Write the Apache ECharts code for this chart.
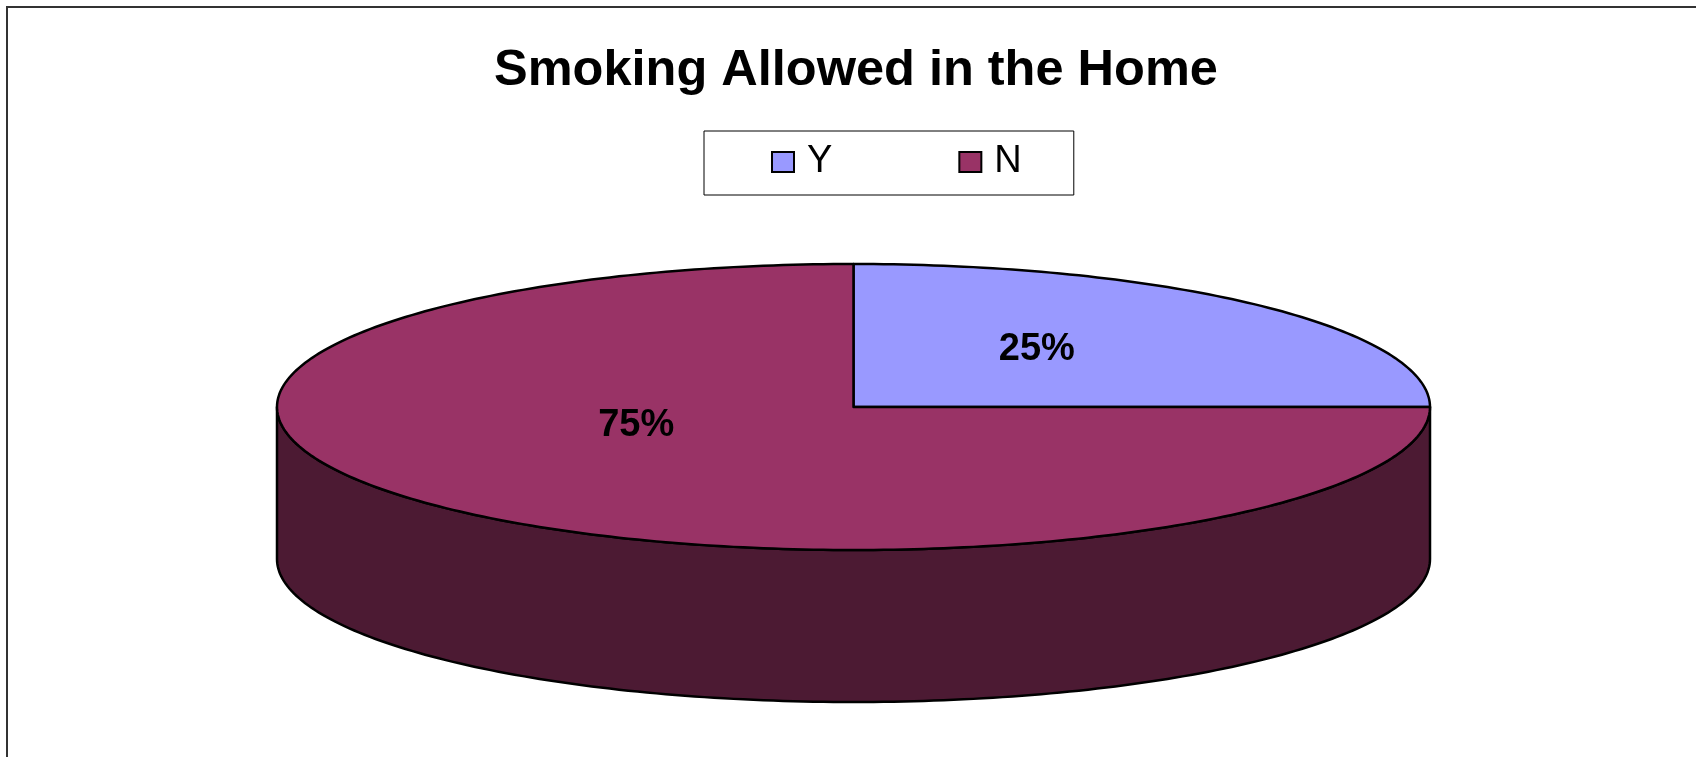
<!DOCTYPE html>
<html>
<head>
<meta charset="utf-8">
<title>Smoking Allowed in the Home</title>
<script src="https://cdn.jsdelivr.net/npm/echarts@6/dist/echarts.min.js"></script>
<style>
  html, body { margin: 0; padding: 0; background: #fff; }
  #chart { width: 1696px; height: 757px; }
</style>
</head>
<body>
<div id="chart"></div>
<script>
// Answer categories and their shares (percent of homes)
const categories = ['Y', 'N'];
const shares = [25, 75];

// Colours of each slice: top face and darker wall
const sliceColors = ['#9999FF', '#993366'];
const wallColors = ['#4D4D80', '#4C1A33'];

// Label placement inside each slice, as a fraction of the ellipse radii
const labelOffsets = [[0.318, 0.40], [-0.377, -0.126]];

// Geometry of the tilted pie
const pie = { cx: 853.5, cy: 407, rx: 576.5, ry: 143, depth: 152 };

const total = shares.reduce((a, b) => a + b, 0);

function pt(deg, dy) {
  const r = deg * Math.PI / 180;
  return [pie.cx + pie.rx * Math.cos(r), pie.cy - pie.ry * Math.sin(r) + (dy || 0)];
}

// Arc sample points from angle a to angle b (degrees), inclusive
function arc(a, b, dy) {
  const pts = [];
  const n = Math.max(2, Math.ceil(Math.abs(b - a) / 1));
  for (let i = 0; i <= n; i++) pts.push(pt(a + (b - a) * i / n, dy));
  return pts;
}

function makeRenderer(idx) {
  return function (params, api) {
    const v = api.value(0);
    let before = 0;
    for (let i = 0; i < idx; i++) before += shares[i];
    // slices run clockwise from 12 o'clock
    const a0 = 90 - before / total * 360;
    const a1 = a0 - v / total * 360;
    const children = [];

    // front wall: the part of the rim facing the viewer (lower half of the ellipse)
    for (let k = -2; k <= 1; k++) {
      const lo = Math.max(a1, k * 360 + 180);
      const hi = Math.min(a0, k * 360 + 360);
      if (hi - lo > 0.01) {
        const top = arc(lo, hi, 0);
        const bottom = arc(hi, lo, pie.depth);
        children.push({
          type: 'polygon',
          shape: { points: top.concat(bottom) },
          style: { fill: wallColors[idx], stroke: '#000', lineWidth: 2.5, lineJoin: 'round' },
          z2: 1
        });
      }
    }

    // top face
    const face = [[pie.cx, pie.cy]].concat(arc(a0, a1, 0));
    children.push({
      type: 'polygon',
      shape: { points: face },
      style: { fill: sliceColors[idx], stroke: '#000', lineWidth: 2.5, lineJoin: 'round' },
      z2: 2
    });

    // percentage label
    const off = labelOffsets[idx];
    children.push({
      type: 'text',
      x: pie.cx + off[0] * pie.rx,
      y: pie.cy - off[1] * pie.ry,
      style: {
        text: Math.round(v / total * 100) + '%',
        fontSize: 38,
        fontWeight: 'bold',
        fontFamily: 'Liberation Sans, Arial, sans-serif',
        fill: '#000',
        align: 'center',
        verticalAlign: 'middle'
      },
      z2: 3
    });

    return { type: 'group', children: children };
  };
}

const chart = echarts.init(document.getElementById('chart'), null, { renderer: 'canvas' });

chart.setOption({
  backgroundColor: '#fff',
  animation: false,
  title: {
    text: 'Smoking Allowed in the Home',
    left: 494,
    top: 46,
    padding: 0,
    textStyle: {
      fontSize: 50.5,
      fontWeight: 'bold',
      fontFamily: 'Liberation Sans, Arial, sans-serif',
      color: '#000'
    }
  },
  legend: {
    data: categories,
    left: 704,
    top: 131,
    orient: 'horizontal',
    icon: 'rect',
    itemWidth: 22,
    itemHeight: 20,
    itemGap: 126,
    padding: [12, 52, 14, 67],
    borderColor: '#000',
    borderWidth: 1,
    backgroundColor: '#fff',
    selectedMode: false,
    itemStyle: { borderColor: '#000', borderWidth: 2 },
    textStyle: {
      fontSize: 38,
      fontFamily: 'Liberation Sans, Arial, sans-serif',
      color: '#000',
      padding: [0, 0, 0, 8]
    }
  },
  graphic: [{
    type: 'polyline',
    shape: { points: [[7, 757], [7, 7], [1696, 7]] },
    style: { stroke: '#333', lineWidth: 2, fill: null },
    silent: true
  }],
  series: categories.map((name, i) => ({
    type: 'custom',
    name: name,
    coordinateSystem: 'none',
    itemStyle: { color: sliceColors[i] },
    renderItem: makeRenderer(i),
    data: [[shares[i]]]
  }))
});
</script>
</body>
</html>
